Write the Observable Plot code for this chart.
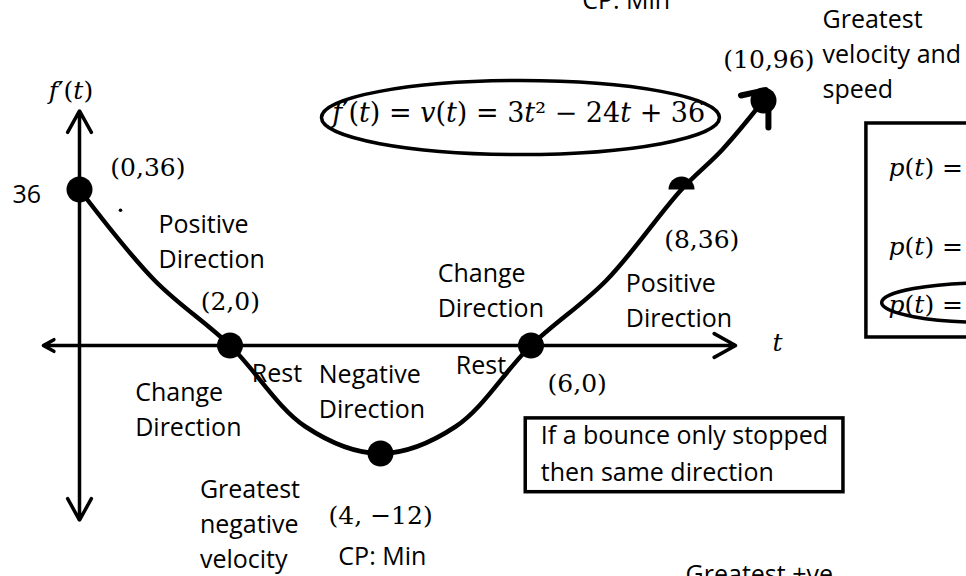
<!DOCTYPE html>
<html>
<head>
<meta charset="utf-8">
<script src="https://cdn.jsdelivr.net/npm/d3@7"></script>
<script src="https://cdn.jsdelivr.net/npm/@observablehq/plot@0.6"></script>
<style>
  body { margin: 0; background: #fff; overflow: hidden; }
  svg { display: block; overflow: hidden; }
</style>
</head>
<body>
<div id="chart"></div>
<script>
// v(t) = f'(t) = 3t^2 - 24t + 36, values read at whole t
const tValues = [0, 1, 2, 3, 4, 5, 6, 7, 8, 9, 10];
const vValues = [36, 15, 0, -9, -12, -9, 0, 15, 36, 63, 96];

// marked points (filled discs)
const pointT = [0, 2, 4, 6, 10];
const pointV = [36, 0, -12, 0, 96];
// (8,36) drawn as a half disc
const halfT = [8];
const halfV = [36];

// axis extents (t axis and f'(t) axis)
const axisT = [-0.48, 9.32];
const axisV = [-19.4, 89];

// math labels
const mathText = ["f′(t)", "(0,36)", "(2,0)", "(4, −12)", "(6,0)", "(8,36)", "(10,96)", "t", "p(t) =", "p(t) =", "p(t) ="];
const mathT = [-0.41, 0.41, 1.61, 3.31, 6.22, 7.77, 9.02, 10.22, 13.05, 13.05, 13.05];
const mathV = [97.3, 45.4, 8.1, -19.8, -5.2, 22.6, 117.6, -0.6, 45.4, 20.8, 7.6];

const formulaText = ["f′(t) = v(t) = 3t² − 24t + 36"];
const formulaT = [3.36];
const formulaV = [81.2];

// written notes
const noteText = ["36", "Positive\nDirection", "Change\nDirection", "Rest", "Negative\nDirection",
  "Greatest\nnegative\nvelocity", "CP: Min", "Rest", "Change\nDirection", "Positive\nDirection",
  "Greatest\nvelocity and\nspeed", "CP: Min", "Greatest +ve"];
const noteT = [-0.89, 1.05, 0.74, 2.29, 3.18, 1.60, 3.44, 5.00, 4.76, 7.26, 11.44, 6.68, 8.10];
const noteV = [32.8, 18.0, -10.1, -4.1, -8.0, -24.7, -24.4, -3.2, 6.5, 4.2, 98.0, 158.0, -26.4];

const boxNote = ["If a bounce only stopped\nthen same direction"];
const boxNoteT = [6.13];
const boxNoteV = [-15.0];

// boxes
const boxT1 = [5.93, 12.51];
const boxT2 = [11.95, 16];
const boxV1 = [-8.1, 80.5];
const boxV2 = [-16.3, 1.85];

// ellipses around formula and third p(t)
const ellT = [5.86, 15.54];
const ellV = [84.5, 9.9];

const curve = tValues.map((t, i) => ({t, v: vValues[i]}));
const points = pointT.map((t, i) => ({t, v: pointV[i]}));
const halves = halfT.map((t, i) => ({t, v: halfV[i]}));
const axes = [
  {x1: 0, y1: 0, x2: axisT[0], y2: 0},
  {x1: 0, y1: 0, x2: axisT[1], y2: 0},
  {x1: 0, y1: 0, x2: 0, y2: axisV[0]},
  {x1: 0, y1: 0, x2: 0, y2: axisV[1]}
];
const boxes = boxT1.map((t, i) => ({x1: t, x2: boxT2[i], y1: boxV1[i], y2: boxV2[i]}));

const halfDisc = {
  draw(ctx, size) {
    const r = Math.sqrt(size / Math.PI);
    ctx.moveTo(-r, 0);
    ctx.arc(0, 0, r, Math.PI, 2 * Math.PI);
    ctx.closePath();
  }
};
function ellipseSymbol(aspect) {
  return {
    draw(ctx, size) {
      const rx = Math.sqrt(size / Math.PI), ry = rx * aspect, k = 0.5523;
      ctx.moveTo(rx, 0);
      ctx.bezierCurveTo(rx, ry * k, rx * k, ry, 0, ry);
      ctx.bezierCurveTo(-rx * k, ry, -rx, ry * k, -rx, 0);
      ctx.bezierCurveTo(-rx, -ry * k, -rx * k, -ry, 0, -ry);
      ctx.bezierCurveTo(rx * k, -ry, rx, -ry * k, rx, 0);
      ctx.closePath();
    }
  };
}

const SANS = "Open Sans";
const SERIF = "DejaVu Serif";

const svg = Plot.plot({
  width: 966,
  height: 576,
  margin: 0,
  style: {background: "#fff", color: "#000"},
  x: {type: "linear", domain: [0, 8, 10], range: [79, 681, 763], axis: null},
  y: {type: "linear", domain: [-12, 0, 36, 96], range: [453, 345, 189, 100], axis: null},
  marks: [
    Plot.arrow(axes, {x1: "x1", y1: "y1", x2: "x2", y2: "y2", stroke: "#000", strokeWidth: 3.5, headLength: 10.5, headAngle: 58}),
    Plot.rect(boxes, {x1: "x1", x2: "x2", y1: "y1", y2: "y2", fill: "none", stroke: "#000", strokeWidth: 3.5}),
    Plot.line(curve, {x: "t", y: "v", curve: "catmull-rom", stroke: "#000", strokeWidth: 4.5, strokeLinejoin: "round"}),
    Plot.dot(points, {x: "t", y: "v", r: 13, fill: "#000", stroke: "none"}),
    Plot.dot(halves, {x: "t", y: "v", r: 13, symbol: halfDisc, fill: "#000", stroke: "none"}),
    // scribbles on the (10,96) end
    Plot.link([{a: 10.12, b: 89.3, c: 10.12, d: 77.8}, {a: 9.45, b: 99.4, c: 10.05, d: 103}],
      {x1: "a", y1: "b", x2: "c", y2: "d", stroke: "#000", strokeWidth: 6, strokeLinecap: "round"}),
    Plot.dot([{t: 0.545, v: 31.2}], {x: "t", y: "v", r: 1.8, fill: "#000", stroke: "none"}),
    Plot.text(noteText, {x: noteT, y: noteV, text: d => d, textAnchor: "start", lineAnchor: "bottom",
      fontFamily: SANS, fontSize: 25, lineHeight: 1.4, fill: "#000"}),
    Plot.text(boxNote, {x: boxNoteT, y: boxNoteV, text: d => d, textAnchor: "start", lineAnchor: "bottom",
      fontFamily: SANS, fontSize: 25, lineHeight: 1.48, fill: "#000"}),
    Plot.text(mathText, {x: mathT, y: mathV, text: d => d, textAnchor: "start", lineAnchor: "bottom",
      fontFamily: SERIF, fontSize: 25, fill: "#000"}),
    Plot.text(formulaText, {x: formulaT, y: formulaV, text: d => d, textAnchor: "start", lineAnchor: "bottom",
      fontFamily: SERIF, fontSize: 27, fill: "#000"}),
    Plot.dot([{t: ellT[0], v: ellV[0]}], {x: "t", y: "v", r: 199, symbol: ellipseSymbol(0.186), fill: "none", stroke: "#000", strokeWidth: 3.5}),
    Plot.dot([{t: ellT[1], v: ellV[1]}], {x: "t", y: "v", r: 109, symbol: ellipseSymbol(0.183), fill: "none", stroke: "#000", strokeWidth: 3.5})
  ]
});

// italicise variable letters in the math labels
svg.querySelectorAll('g[font-family="DejaVu Serif"] text').forEach(el => {
  if (el.querySelector("tspan")) return;
  const s = el.textContent;
  el.textContent = "";
  s.split(/([A-Za-z]+)/).forEach(part => {
    if (!part) return;
    const ts = document.createElementNS("http://www.w3.org/2000/svg", "tspan");
    if (/^[A-Za-z]+$/.test(part)) ts.setAttribute("font-style", "italic");
    ts.textContent = part;
    el.appendChild(ts);
  });
});

document.getElementById("chart").appendChild(svg);
</script>
</body>
</html>
